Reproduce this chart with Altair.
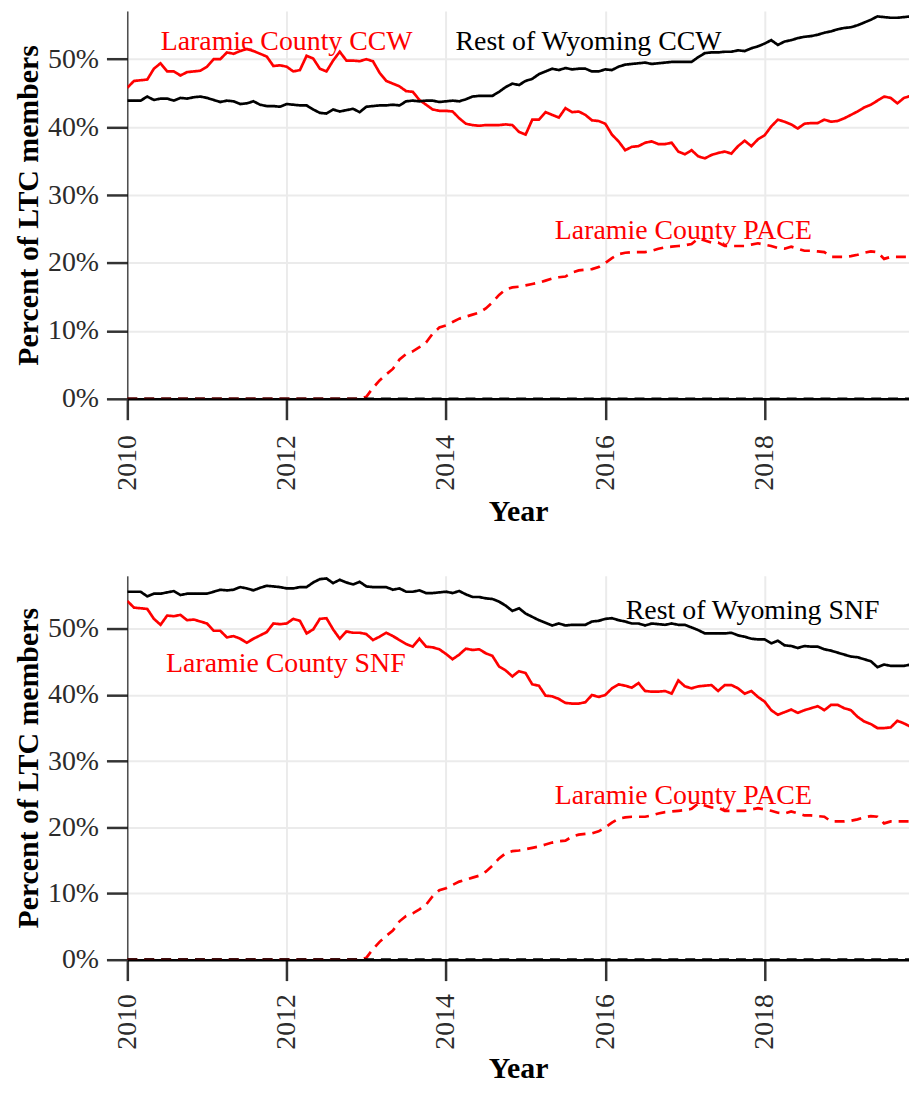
import altair as alt
import pandas as pd

# month index 0 = Jan 2010
months = list(range(119))

lar_ccw = [45.8, 46.8, 46.9, 47.0, 48.6, 49.4, 48.2, 48.2, 47.6, 48.1,
           48.2, 48.3, 48.9, 50.0, 50.0, 51.0, 50.8, 51.2, 51.5, 51.2,
           50.8, 50.4, 49.0, 49.1, 48.9, 48.2, 48.4, 50.5, 50.1, 48.6,
           48.2, 49.8, 51.1, 49.8, 49.8, 49.7, 50.0, 49.7, 48.0, 46.8,
           46.4, 46.0, 45.3, 45.2, 44.0, 43.3, 42.6, 42.4, 42.4, 42.3,
           41.3, 40.5, 40.3, 40.2, 40.3, 40.3, 40.3, 40.4, 40.3, 39.3,
           38.9, 41.1, 41.1, 42.2, 41.8, 41.4, 42.8, 42.2, 42.3, 41.8,
           41.0, 40.9, 40.5, 38.9, 37.9, 36.6, 37.1, 37.2, 37.7, 37.9,
           37.5, 37.5, 37.7, 36.4, 36.0, 36.6, 35.7, 35.4, 35.9, 36.2,
           36.4, 36.1, 37.2, 38.0, 37.2, 38.2, 38.8, 40.1, 41.1, 40.8,
           40.4, 39.8, 40.5, 40.6, 40.6, 41.1, 40.8, 40.9, 41.3, 41.8,
           42.3, 42.9, 43.3, 43.9, 44.5, 44.3, 43.5, 44.3, 44.6]

rest_ccw = [43.9, 43.9, 43.9, 44.5, 44.0, 44.2, 44.2, 43.9, 44.3, 44.2,
            44.4, 44.5, 44.3, 44.0, 43.7, 43.9, 43.8, 43.4, 43.5, 43.8,
            43.3, 43.1, 43.1, 43.0, 43.4, 43.3, 43.2, 43.2, 42.6, 42.1,
            42.0, 42.6, 42.3, 42.5, 42.7, 42.2, 43.0, 43.1, 43.2, 43.2,
            43.3, 43.2, 43.8, 43.9, 43.8, 43.9, 43.9, 43.7, 43.8, 43.9,
            43.8, 44.1, 44.5, 44.6, 44.6, 44.6, 45.2, 45.9, 46.4, 46.2,
            46.8, 47.1, 47.8, 48.2, 48.6, 48.4, 48.7, 48.5, 48.6, 48.6,
            48.2, 48.2, 48.5, 48.4, 48.9, 49.2, 49.3, 49.4, 49.5, 49.3,
            49.4, 49.5, 49.6, 49.6, 49.6, 49.6, 50.3, 50.9, 51.0, 51.0,
            51.1, 51.1, 51.3, 51.2, 51.6, 51.9, 52.3, 52.8, 52.1, 52.6,
            52.8, 53.1, 53.3, 53.4, 53.6, 53.9, 54.1, 54.4, 54.6, 54.7,
            55.0, 55.4, 55.8, 56.3, 56.2, 56.1, 56.1, 56.2, 56.3]

lar_snf = [54.2, 53.2, 53.1, 53.0, 51.5, 50.6, 52.0, 51.9, 52.1, 51.3,
           51.4, 51.1, 50.8, 49.7, 49.7, 48.7, 48.9, 48.5, 47.9, 48.5,
           49.0, 49.5, 50.8, 50.7, 50.8, 51.5, 51.2, 49.3, 49.9, 51.5,
           51.6, 49.9, 48.5, 49.6, 49.4, 49.4, 49.2, 48.3, 48.8, 49.4,
           48.9, 48.3, 47.7, 47.3, 48.5, 47.3, 47.2, 46.9, 46.2, 45.4,
           46.1, 47.0, 46.8, 46.9, 46.3, 45.9, 44.3, 43.7, 42.8, 43.6,
           43.3, 41.6, 41.4, 39.9, 39.8, 39.4, 38.8, 38.7, 38.7, 38.9,
           40.0, 39.7, 40.0, 41.0, 41.6, 41.4, 41.1, 41.8, 40.6, 40.5,
           40.5, 40.6, 40.2, 42.2, 41.3, 41.0, 41.3, 41.4, 41.5, 40.6,
           41.5, 41.5, 41.0, 40.2, 40.6, 39.7, 39.0, 37.7, 37.0, 37.4,
           37.8, 37.3, 37.7, 38.0, 38.3, 37.7, 38.5, 38.5, 38.0, 37.7,
           36.7, 36.0, 35.6, 35.0, 35.0, 35.1, 36.1, 35.7, 35.2]

rest_snf = [55.6, 55.6, 55.6, 54.9, 55.3, 55.3, 55.5, 55.7, 55.1, 55.3,
            55.3, 55.3, 55.3, 55.6, 55.9, 55.8, 55.9, 56.3, 56.1, 55.8,
            56.2, 56.5, 56.4, 56.3, 56.1, 56.1, 56.3, 56.3, 57.0, 57.5,
            57.6, 56.9, 57.4, 57.0, 56.7, 57.1, 56.4, 56.3, 56.3, 56.3,
            55.9, 56.1, 55.6, 55.6, 55.8, 55.4, 55.4, 55.5, 55.6, 55.4,
            55.7, 55.2, 54.8, 54.8, 54.6, 54.5, 54.1, 53.5, 52.7, 53.1,
            52.3, 51.8, 51.3, 50.9, 50.5, 50.8, 50.5, 50.6, 50.6, 50.6,
            51.1, 51.2, 51.5, 51.6, 51.3, 51.1, 50.8, 50.8, 50.5, 50.8,
            50.7, 50.6, 50.8, 50.6, 50.6, 50.2, 49.8, 49.3, 49.3, 49.3,
            49.3, 49.4, 49.0, 48.8, 48.5, 48.4, 48.4, 47.8, 48.2, 47.5,
            47.4, 47.1, 47.4, 47.3, 47.3, 46.9, 46.7, 46.4, 46.1, 45.8,
            45.7, 45.4, 45.1, 44.2, 44.6, 44.4, 44.4, 44.4, 44.6]

lar_pace = [0.0, 0.0, 0.0, 0.0, 0.0, 0.0, 0.0, 0.0, 0.0, 0.0,
            0.0, 0.0, 0.0, 0.0, 0.0, 0.0, 0.0, 0.0, 0.0, 0.0,
            0.0, 0.0, 0.0, 0.0, 0.0, 0.0, 0.0, 0.0, 0.0, 0.0,
            0.0, 0.0, 0.0, 0.0, 0.0, 0.0, 0.3, 1.6, 2.7, 3.6,
            4.4, 5.8, 6.6, 7.0, 7.6, 8.3, 9.6, 10.5, 10.8, 11.3,
            11.8, 12.1, 12.4, 12.7, 13.3, 14.2, 15.3, 16.1, 16.4, 16.5,
            16.7, 16.9, 17.1, 17.4, 17.7, 17.9, 18.0, 18.6, 18.9, 19.0,
            19.1, 19.4, 20.0, 20.7, 21.3, 21.5, 21.6, 21.6, 21.6, 21.8,
            22.1, 22.3, 22.4, 22.5, 22.6, 22.8, 23.6, 23.3, 23.0, 23.0,
            22.5, 22.5, 22.5, 22.5, 22.7, 22.9, 22.7, 22.5, 22.2, 22.1,
            22.4, 22.1, 21.8, 21.8, 21.7, 21.6, 20.9, 20.9, 20.9, 21.0,
            21.2, 21.5, 21.7, 21.6, 20.6, 20.9, 20.9, 20.9, 20.9]

rest_pace = [0.0] * len(months)

# annotation labels: text, year position, percent position, colour
top_labels = ["Laramie County CCW", "Rest of Wyoming CCW", "Laramie County PACE"]
top_label_x = [2012.0, 2015.79, 2016.98]
top_label_y = [52.5, 52.5, 24.7]
top_label_c = ["red", "black", "red"]

bot_labels = ["Rest of Wyoming SNF", "Laramie County SNF", "Laramie County PACE"]
bot_label_x = [2017.85, 2011.99, 2016.98]
bot_label_y = [52.7, 44.6, 24.7]
bot_label_c = ["black", "red", "red"]

x_ticks = [2010, 2012, 2014, 2016, 2018]
y_ticks = [0, 10, 20, 30, 40, 50]

FONT = "Liberation Serif"
years = [2010 + m / 12 for m in months]
PLOT_W = 786
X_MAX = 2010 + PLOT_W / 80.1   # visible window ends at the page edge


def series_df(named):
    rows = []
    for name, vals in named:
        for yr, v in zip(years, vals):
            rows.append({"series": name, "year": yr, "pct": v})
    return pd.DataFrame(rows)


def panel(named, colors, dashes, labels, lx, ly, lc, ymax, height, lab_pad, title_pad):
    df = series_df(named)
    names = [n for n, _ in named]
    xenc = alt.X("year:Q",
                 scale=alt.Scale(domain=[2010, X_MAX], nice=False, zero=False),
                 axis=alt.Axis(values=x_ticks, format="d", title="Year",
                               labelPadding=lab_pad, titlePadding=title_pad))
    yenc = alt.Y("pct:Q",
                 scale=alt.Scale(domain=[0, ymax], nice=False),
                 axis=alt.Axis(values=y_ticks, labelExpr="datum.value + '%'",
                               title="Percent of LTC members"))
    lines = alt.Chart(df).mark_line(strokeWidth=2.7, clip=True).encode(
        x=xenc, y=yenc,
        color=alt.Color("series:N", scale=alt.Scale(domain=names, range=colors), legend=None),
        strokeDash=alt.StrokeDash("series:N", scale=alt.Scale(domain=names, range=dashes), legend=None),
        order=alt.Order("year:Q"),
    )
    ldf = pd.DataFrame({"label": labels, "year": lx, "pct": ly, "col": lc})
    text = alt.Chart(ldf).mark_text(font=FONT, fontSize=28, align="center", baseline="middle").encode(
        x=alt.X("year:Q"), y=alt.Y("pct:Q"), text="label:N",
        color=alt.Color("col:N", scale=None),
    )
    return alt.layer(lines, text).resolve_scale(color="independent").properties(width=PLOT_W, height=height)


solid = [1, 0]
dash = [10, 7]
top = panel([("Laramie County PACE", lar_pace), ("Rest of Wyoming PACE", rest_pace),
             ("Laramie County CCW", lar_ccw), ("Rest of Wyoming CCW", rest_ccw)],
            ["red", "black", "red", "black"], [dash, dash, solid, solid],
            top_labels, top_label_x, top_label_y, top_label_c, 57.1, 390, 15, 6)
bottom = panel([("Laramie County PACE", lar_pace), ("Rest of Wyoming PACE", rest_pace),
                ("Laramie County SNF", lar_snf), ("Rest of Wyoming SNF", rest_snf)],
               ["red", "black", "red", "black"], [dash, dash, solid, solid],
               bot_labels, bot_label_x, bot_label_y, bot_label_c, 58.0, 386, 13, 4)

chart = alt.vconcat(top, bottom, spacing=50).resolve_scale(
    color="independent", strokeDash="independent", x="independent", y="independent"
).properties(
    padding={"left": 5, "top": 0, "right": 0, "bottom": 0}
).configure_view(stroke=None).configure_axis(
    labelFont=FONT, titleFont=FONT, labelFontSize=28, titleFontSize=30,
    titleFontWeight="bold", titleColor="black", labelColor="#2b2b2b",
    gridColor="#ebebeb", gridWidth=2, tickColor="#333333", tickWidth=2.5, tickSize=21,
).configure_axisX(
    labelAngle=270, domainColor="black", domainWidth=2.5,
).configure_axisY(
    labelPadding=8, titlePadding=4, domainColor="black", domainWidth=1,
)

chart.save("out.html", embed_options={"renderer": "svg", "actions": False})
